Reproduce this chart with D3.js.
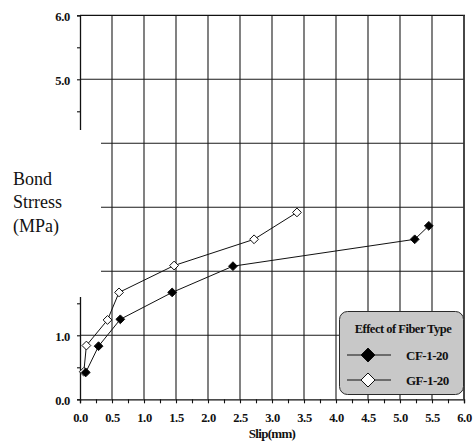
<!DOCTYPE html>
<html>
<head>
<meta charset="utf-8">
<script src="https://cdn.jsdelivr.net/npm/d3@7"></script>
<style>
  html, body { margin: 0; padding: 0; background: #fff; }
  svg { display: block; }
</style>
</head>
<body>
<svg id="chart" width="474" height="444"></svg>
<script>
// Bond stress vs slip for two fiber types
const cfSlip   = [0.09, 0.29, 0.63, 1.44, 2.39, 5.23, 5.45];
const cfStress = [0.42, 0.83, 1.25, 1.67, 2.08, 2.50, 2.71];
const gfSlip   = [0.06, 0.10, 0.43, 0.61, 1.47, 2.72, 3.39];
const gfStress = [0.43, 0.84, 1.24, 1.67, 2.09, 2.50, 2.92];

const seriesNames = ["CF-1-20", "GF-1-20"];
const xTickLabels = ["0.0","0.5","1.0","1.5","2.0","2.5","3.0","3.5","4.0","4.5","5.0","5.5","6.0"];
const yTickLabels = ["0.0","1.0","5.0","6.0"];
const yGridValues = [1, 2, 3, 4, 5];
const xGridValues = [0.5, 1, 1.5, 2, 2.5, 3, 3.5, 4, 4.5, 5, 5.5];

const SERIF = '"Liberation Serif", "DejaVu Serif", "Times New Roman", serif';

const svg = d3.select("#chart");
const x = d3.scaleLinear().domain([0, 6]).range([80, 464]);
const y = d3.scaleLinear().domain([0, 6]).range([399.3, 15.3]);

const grid = svg.append("g").attr("stroke", "#1a1a1a").attr("stroke-width", 1.1);
grid.selectAll("line.h").data(yGridValues).join("line")
  .attr("x1", x(0)).attr("x2", x(6))
  .attr("y1", d => y(d)).attr("y2", d => y(d));
grid.selectAll("line.v").data(xGridValues).join("line")
  .attr("y1", y(0)).attr("y2", y(6))
  .attr("x1", d => x(d)).attr("x2", d => x(d));
// frame top and right
svg.append("line").attr("x1", x(0)).attr("x2", x(6) + 1).attr("y1", y(6)).attr("y2", y(6))
  .attr("stroke", "#111").attr("stroke-width", 1.3);
svg.append("line").attr("x1", x(6)).attr("x2", x(6)).attr("y1", y(6)).attr("y2", y(0))
  .attr("stroke", "#333").attr("stroke-width", 1.8);

// x axis: minor ticks every 0.25, labels every 0.5
const xAxis = d3.axisBottom(x)
  .tickValues(d3.range(0, 6.001, 0.25))
  .tickSize(4)
  .tickFormat(d => {
    const i = Math.round(d * 2);
    return Math.abs(d * 2 - i) < 1e-6 ? xTickLabels[i] : "";
  });
const gx = svg.append("g").attr("transform", `translate(0,${y(0)})`).call(xAxis);
gx.select(".domain").attr("stroke", "#111").attr("stroke-width", 1.3);
gx.selectAll(".tick line").attr("stroke", "#111").attr("stroke-width", 1.1);
gx.selectAll(".tick text")
  .attr("y", 23).attr("dy", null)
  .attr("fill", "#111")
  .style("font-size", "12.5px").style("font-weight", "bold").style("letter-spacing", "-0.3px");

// y axis: ticks every 0.5
const yLabelMap = new Map(yTickLabels.map(s => [parseFloat(s), s]));
const yAxis = d3.axisLeft(y)
  .tickValues(d3.range(0, 6.001, 0.5))
  .tickSize(3)
  .tickFormat(d => yLabelMap.get(d) || "");
const gy = svg.append("g").attr("transform", `translate(${x(0)},0)`).call(yAxis);
gy.select(".domain").attr("stroke", "#111").attr("stroke-width", 1.3);
gy.selectAll(".tick line").attr("stroke", "#111").attr("stroke-width", 1.1);
gy.selectAll(".tick text")
  .attr("x", -10).attr("dy", "0.4em")
  .attr("fill", "#111")
  .style("font-size", "12.5px").style("font-weight", "bold").style("letter-spacing", "-0.3px");

// x axis title
svg.append("text").attr("x", (x(0) + x(6)) / 2).attr("y", 438)
  .attr("text-anchor", "middle")
  .style("font-size", "13px").style("font-weight", "bold")
  .style("letter-spacing", "-0.7px")
  .attr("fill", "#111")
  .text("Slip(mm)");

// y axis title on a white panel
svg.append("rect").attr("x", 0).attr("y", 130).attr("width", 101).attr("height", 167).attr("fill", "#fff");
const yTitle = svg.append("text").attr("x", 13).style("font-size", "18px").attr("fill", "#111");
["Bond", "Strress", "(MPa)"].forEach((t, i) => {
  yTitle.append("tspan").attr("x", 13).attr("y", 185 + i * 23.3).text(t);
});

// series
const diamond = r => `M0,${-r}L${r},0L0,${r}L${-r},0Z`;
const series = [
  { name: seriesNames[0], xs: cfSlip, ys: cfStress, fill: "#000" },
  { name: seriesNames[1], xs: gfSlip, ys: gfStress, fill: "#fff" }
];
const line = d3.line().x(d => x(d[0])).y(d => y(d[1]));
series.slice().reverse().forEach(s => {
  const pts = s.xs.map((v, i) => [v, s.ys[i]]);
  svg.append("path").attr("d", line(pts)).attr("fill", "none")
    .attr("stroke", "#111").attr("stroke-width", 1);
  svg.append("g").selectAll("path").data(pts).join("path")
    .attr("transform", d => `translate(${x(d[0])},${y(d[1])})`)
    .attr("d", diamond(4.4))
    .attr("fill", s.fill).attr("stroke", "#111").attr("stroke-width", 1);
});

// legend
const lg = svg.append("g");
lg.append("rect").attr("x", 339.5).attr("y", 311.5).attr("width", 124).attr("height", 83)
  .attr("rx", 8).attr("fill", "#c8c8c8").attr("stroke", "#2a2a2a").attr("stroke-width", 1);
lg.append("text").attr("x", 403).attr("y", 333).attr("text-anchor", "middle")
  .style("font-size", "12.5px").style("font-weight", "bold").style("letter-spacing", "-0.5px")
  .attr("fill", "#111").text("Effect of Fiber Type");
series.forEach((s, i) => {
  const cy = 355 + i * 25;
  lg.append("line").attr("x1", 347).attr("x2", 391).attr("y1", cy).attr("y2", cy)
    .attr("stroke", "#111").attr("stroke-width", 1);
  lg.append("path").attr("transform", `translate(368,${cy})`).attr("d", diamond(7))
    .attr("fill", s.fill).attr("stroke", "#111").attr("stroke-width", 1);
  lg.append("text").attr("x", 406).attr("y", cy + 5)
    .style("font-size", "13px").style("font-weight", "bold").style("letter-spacing", "-0.5px")
    .attr("fill", "#111").text(s.name);
});

// every label in the chart uses the serif face
svg.selectAll("text").style("font-family", SERIF);
svg.selectAll("g").attr("font-family", null);
</script>
</body>
</html>
